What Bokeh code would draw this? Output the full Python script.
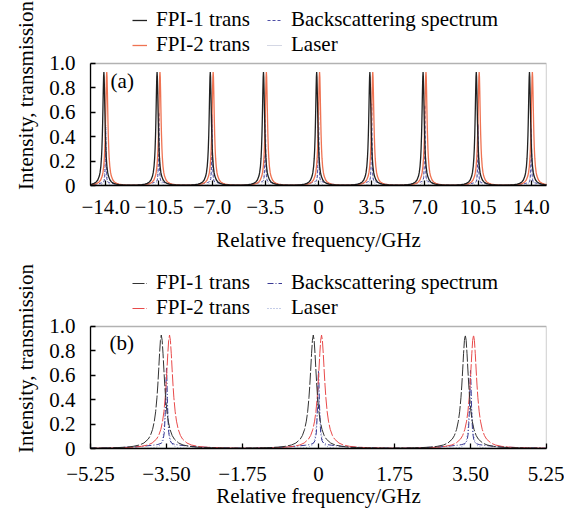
import numpy as np
from bokeh.plotting import figure
from bokeh.models import Legend, LegendItem, FixedTicker, Label, Range1d, BoxAnnotation
from bokeh.layouts import column
from bokeh.embed import file_html
from bokeh.resources import INLINE

# ---------------- data ----------------
top_orders = [-14.0, -10.5, -7.0, -3.5, 0.0, 3.5, 7.0, 10.5, 14.0]
bottom_orders = [-3.5, 0.0, 3.5]

fpi1_shift = -0.12   # GHz, FPI-1 peak offset from each order
fpi2_shift = 0.07    # GHz, FPI-2 peak offset from each order

# one-sided FPI transmission profile (offset GHz, transmission)
fpi_offsets = [0.0, 0.02, 0.04, 0.06, 0.08, 0.10, 0.13, 0.16, 0.20, 0.25,
               0.30, 0.40, 0.50, 0.65, 0.80, 1.00, 1.25, 1.50, 1.75]
fpi_values = [0.93, 0.886, 0.777, 0.644, 0.520, 0.416, 0.301, 0.224, 0.157,
              0.107, 0.077, 0.045, 0.029, 0.0175, 0.0116, 0.0075, 0.0048,
              0.0033, 0.0025]

# one-sided backscattering profile, relative to the peak height
bs_offsets = [0.0, 0.01, 0.02, 0.03, 0.05, 0.08, 0.12, 0.20, 0.30, 0.50,
              0.80, 1.20, 1.75]
bs_rel = [1.0, 0.86, 0.62, 0.42, 0.20, 0.10, 0.065, 0.05, 0.042, 0.03,
          0.018, 0.009, 0.004]
top_bs_heights = [0.48, 0.60, 0.58, 0.65, 0.68, 0.67, 0.66, 0.50, 0.47]
bottom_bs_heights = [0.66, 0.64, 0.64]

# one-sided laser profile
laser_offsets = [0.0, 0.01, 0.02, 0.04, 0.07, 0.10, 0.15, 0.25, 0.40, 1.75]
laser_values = [0.50, 0.46, 0.38, 0.24, 0.12, 0.06, 0.025, 0.008, 0.002, 0.0]

top_xticks = [-14.0, -10.5, -7.0, -3.5, 0.0, 3.5, 7.0, 10.5, 14.0]
top_xlabels = ["\u221214.0", "\u221210.5", "\u22127.0", "\u22123.5", "0",
               "3.5", "7.0", "10.5", "14.0"]
bottom_xticks = [-5.25, -3.5, -1.75, 0.0, 1.75, 3.5, 5.25]
bottom_xlabels = ["\u22125.25", "\u22123.50", "\u22121.75", "0", "1.75",
                  "3.50", "5.25"]
yticks = [0.0, 0.2, 0.4, 0.6, 0.8, 1.0]
ylabels = ["0", "0.2", "0.4", "0.6", "0.8", "1.0"]

legend_labels = ["FPI-1 trans", "FPI-2 trans", "Backscattering spectrum", "Laser"]

FONT = "Liberation Serif"
Y_TOP = 1.4754   # room above the 0..1 box for the legend


def mirror(offsets, values):
    off = np.asarray(offsets, float)
    val = np.asarray(values, float)
    return np.concatenate([-off[:0:-1], off]), np.concatenate([val[:0:-1], val])


def series(centers, shift, offsets, values, heights=None):
    ox, oy = mirror(offsets, values)
    xs, ys = [], []
    for i, c in enumerate(centers):
        h = 1.0 if heights is None else heights[i]
        xs.append(c + shift + ox)
        ys.append(oy * h)
    return np.concatenate(xs), np.concatenate(ys)


def make_legend(items, x, y):
    return Legend(items=items, location=(x, y), orientation="vertical",
                  label_text_font=FONT, label_text_font_size="21px",
                  label_text_color="black",
                  glyph_width=15, glyph_height=20, label_height=20,
                  label_standoff=9, spacing=0, padding=0, margin=0,
                  border_line_color=None, background_fill_alpha=0)


def make_fig(height, min_bottom, xr, orders, bs_heights, xticks, xlabels,
             lab_standoff, axlab_standoff, tag, tag_xy, styles):
    p = figure(width=564, height=height, output_backend="svg",
               toolbar_location=None, x_range=Range1d(*xr),
               y_range=Range1d(0, Y_TOP),
               min_border_left=90, min_border_right=18, min_border_top=5,
               min_border_bottom=min_bottom)
    p.background_fill_color = None
    p.border_fill_color = "white"
    p.grid.visible = False
    p.outline_line_color = None

    # the plotting box from 0 to 1.0
    p.add_layout(BoxAnnotation(left=xr[0], right=xr[1], bottom=0, top=1.0,
                               fill_alpha=0, line_color="black", line_width=1.3,
                               level="overlay"))

    renderers = []
    x1, y1 = series(orders, fpi1_shift, fpi_offsets, fpi_values)
    x2, y2 = series(orders, fpi2_shift, fpi_offsets, fpi_values)
    xb, yb = series(orders, 0.0, bs_offsets, bs_rel, bs_heights)
    xl, yl = series(orders, 0.0, laser_offsets, laser_values)
    for (xx, yy), st in zip([(xl, yl), (xb, yb), (x2, y2), (x1, y1)], styles[::-1]):
        r = p.line(xx, yy, **st)
        renderers.append(r)
    renderers = renderers[::-1]

    for ax in (p.xaxis[0], p.yaxis[0]):
        ax.major_tick_in = 5
        ax.major_tick_out = 0
        ax.minor_tick_line_color = None
        ax.axis_line_color = "black"
        ax.axis_line_width = 1.3
        ax.major_tick_line_color = "black"
        ax.major_tick_line_width = 1.3
        ax.major_label_text_font = FONT
        ax.major_label_text_font_size = "21px"
        ax.major_label_text_color = "black"
        ax.axis_label_text_font = FONT
        ax.axis_label_text_font_size = "21px"
        ax.axis_label_text_font_style = "normal"
        ax.axis_label_text_color = "black"

    p.xaxis.ticker = FixedTicker(ticks=xticks)
    p.xaxis.major_label_overrides = {t: l for t, l in zip(xticks, xlabels)}
    p.xaxis.axis_label = "Relative frequency/GHz"
    p.xaxis.major_label_standoff = lab_standoff
    p.xaxis.axis_label_standoff = axlab_standoff

    p.yaxis.bounds = (0, 1.0)
    p.yaxis.ticker = FixedTicker(ticks=yticks)
    p.yaxis.major_label_overrides = {t: l for t, l in zip(yticks, ylabels)}
    p.yaxis.axis_label = "Intensity, transmission"
    p.yaxis.major_label_standoff = 15
    p.yaxis.axis_label_standoff = 8

    p.add_layout(Label(x=tag_xy[0], y=tag_xy[1], text=tag, text_font=FONT,
                       text_font_size="21px", text_baseline="middle",
                       text_align="left", text_color="black"))

    items = [LegendItem(label=l, renderers=[r]) for l, r in zip(legend_labels, renderers)]
    p.add_layout(make_legend(items[:2], 42, 128))
    p.add_layout(make_legend(items[2:], 177, 128))
    return p


top_styles = [
    dict(line_color="#222222", line_width=1.3),
    dict(line_color="#ef7352", line_width=1.3),
    dict(line_color="#4f4fa6", line_width=1.0, line_dash="3 2"),
    dict(line_color="#a9afc9", line_width=1.0, line_dash="1 1"),
]
bottom_styles = [
    dict(line_color="#333333", line_width=1.0, line_dash="12 2"),
    dict(line_color="#e84a4a", line_width=1.0, line_dash="12 2"),
    dict(line_color="#3a3a94", line_width=1.0, line_dash="6 2 1 2"),
    dict(line_color="#8a9ad0", line_width=1.0, line_dash="1 2"),
]

p1 = make_fig(263, 78, (-15, 15), top_orders, top_bs_heights, top_xticks, top_xlabels,
              14, 11, "(a)", (-13.68, 0.86), top_styles)
p2 = make_fig(247, 0, (-5.25, 5.25), bottom_orders, bottom_bs_heights, bottom_xticks,
              bottom_xlabels, 18, 0, "(b)", (-4.81, 0.865), bottom_styles)

layout = column(p1, p2, spacing=0)
open("out.html", "w").write(file_html(layout, INLINE))
